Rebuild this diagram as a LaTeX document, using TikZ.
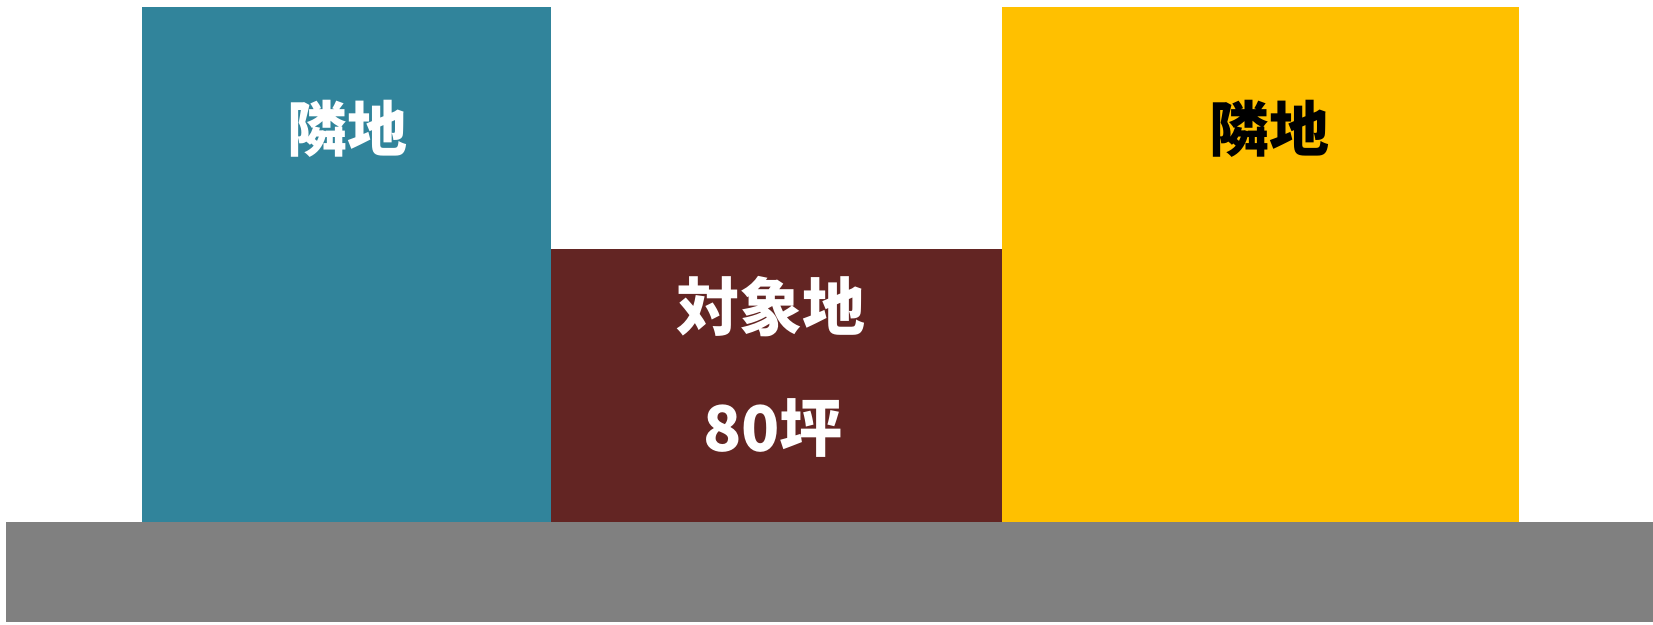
\documentclass[tikz,border=0pt]{standalone}
\usepackage{fontspec}
\newfontfamily\cjk{Noto Sans CJK JP}
\definecolor{cblue}{HTML}{31849B}
\definecolor{cyellow}{HTML}{FFC000}
\definecolor{cred}{HTML}{632523}
\definecolor{cgray}{HTML}{808080}
\tikzset{
  lbl/.style={font=\cjk\bfseries\fontsize{60}{64}\selectfont, inner sep=0pt},
  biglbl/.style={font=\cjk\bfseries\fontsize{63}{66}\selectfont, inner sep=0pt}
}
\begin{document}
\begin{tikzpicture}[x=1pt,y=-1pt]
\useasboundingbox (0,0) rectangle (1653,624);
\fill[cblue] (142,7) rectangle (551,522);
\fill[cyellow] (1002,7) rectangle (1519,522);
\fill[cred] (551,249) rectangle (1002,522);
\fill[cgray] (6,522) rectangle (1653,622);
\node[lbl, text=white] (l1) at (347,129) {隣地};
\node[lbl, text=black] (l2) at (1269,129) {隣地};
\node[biglbl, text=white] (t1) at (771,307) {対象地};
\node[biglbl, text=white] (t2) at (773,428) {80坪};
\end{tikzpicture}
\end{document}
